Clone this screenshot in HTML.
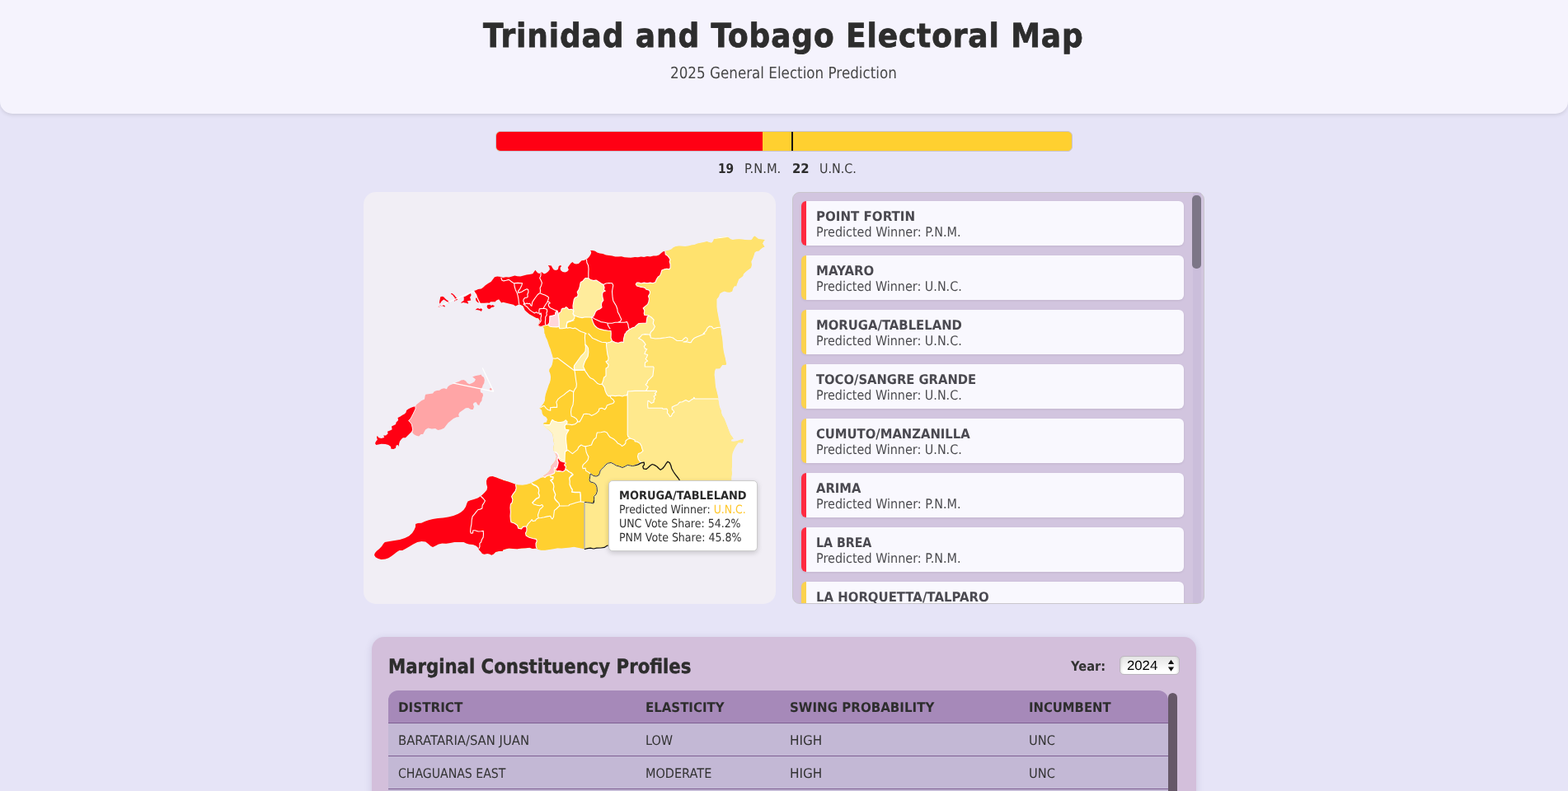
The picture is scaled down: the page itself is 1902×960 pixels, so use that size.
<!DOCTYPE html>
<html lang="en">
<head>
<meta charset="utf-8">
<title>Trinidad and Tobago Electoral Map</title>
<style>
*{box-sizing:border-box;margin:0;padding:0}
html,body{width:1902px;height:960px;overflow:hidden}
body{background:#e6e4f7;font-family:"DejaVu Sans","Liberation Sans",sans-serif;color:#333;position:relative;font-size:16px}
.t{position:absolute;white-space:nowrap;font-weight:normal;display:block;transform-origin:0 0;text-rendering:geometricPrecision}
header{position:absolute;left:0;top:0;width:1902px;height:138px;background:#f5f3fd;border-radius:0 0 15px 15px;box-shadow:0 2px 4px rgba(0,0,0,.1)}
.bar{position:absolute;left:601px;top:159px;width:700px;height:25px;border:1px solid #c9c3cf;border-radius:6px;overflow:hidden;background:#ffd030}
.bar .pnm{position:absolute;left:0;top:0;bottom:0;width:322.6px;background:#ff0014}
.bar .mid{position:absolute;left:358px;top:0;bottom:0;width:2px;background:#111}
.seats{position:absolute;left:0;top:0;width:1902px;height:0}
.map{position:absolute;left:441px;top:233px;width:500px;height:500px;border-radius:15px;background:#f1eef5;overflow:hidden}
.map svg{position:absolute;left:0;top:0;width:500px;height:500px}
.tip{position:absolute;left:738px;top:583px;width:181px;height:86px;background:#fff;border:1px solid #ccc;border-radius:5px;box-shadow:0 2px 6px rgba(0,0,0,.18)}
.list{position:absolute;left:961px;top:233px;width:500px;height:500px;border:1px solid #c9c6cc;border-radius:9px;background:#d2c5df;overflow:hidden}
.item{position:absolute;left:10px;width:464px;height:54px;background:#f9f8fe;border-left:6px solid #ff2a40;border-radius:6px;box-shadow:0 1px 3px rgba(0,0,0,.08)}
.item.u{border-left-color:#fbd24f}
.track{position:absolute;left:1447px;top:234px;width:10px;height:498px;background:#cbbedb}
.thumb{position:absolute;left:1446px;top:237px;width:11px;height:89px;background:#7c7687;border-radius:5px}
.panel{position:absolute;left:451px;top:773px;width:1000px;height:260px;border-radius:15px;background:#d3bfdb;box-shadow:0 2px 10px rgba(60,50,100,.15)}
.sel{position:absolute;left:907px;top:23px;width:73px;height:23px;border:1px solid #bcb6bf;border-radius:5px;background:linear-gradient(#e6e6e6,#f1f1f1 40%,#fff 80%);box-shadow:inset 3px 0 3px -2px rgba(0,0,0,.13),inset -3px 0 3px -2px rgba(0,0,0,.13)}
.sel svg{position:absolute;left:56px;top:3px}
.tbl{position:absolute;left:471px;top:838px;width:946px;height:200px;border-radius:12px 12px 0 0;overflow:hidden;background:#c3b8d5}
.tr{position:absolute;left:0;width:946px;height:40px;border-bottom:1px solid #7e5f92}
.tr.h{background:#a689b9}
.sb{position:absolute;left:966px;top:68px;width:11px;height:200px;background:#665868;border-radius:6px}
</style>
</head>
<body>
<header><h1 class="t" style="left:586.30px;top:18.90px;font:bold 40px/50px 'DejaVu Sans','Liberation Sans',sans-serif;letter-spacing:1.0px;color:#2d2d2d;transform:scaleX(0.8982);-webkit-text-stroke:0.8px #2d2d2d">Trinidad and Tobago Electoral Map</h1><p class="t" style="left:813.21px;top:77.40px;font:normal 19.2px/24px 'DejaVu Sans','Liberation Sans',sans-serif;letter-spacing:0px;color:#474747;transform:scaleX(0.8734)">2025 General Election Prediction</p></header>
<div class="bar"><div class="pnm"></div><div class="mid"></div></div>
<div class="seats"><b class="t" style="left:870.94px;top:195.30px;font:bold 16px/20px 'DejaVu Sans','Liberation Sans',sans-serif;letter-spacing:0px;color:#2d2d2d;transform:scaleX(0.8600)">19</b><span class="t" style="left:903.17px;top:195.30px;font:normal 16px/20px 'DejaVu Sans','Liberation Sans',sans-serif;letter-spacing:0px;color:#3a3a3a;transform:scaleX(0.9180)">P.N.M.</span><b class="t" style="left:960.59px;top:195.30px;font:bold 16px/20px 'DejaVu Sans','Liberation Sans',sans-serif;letter-spacing:0px;color:#2d2d2d;transform:scaleX(0.9254)">22</b><span class="t" style="left:994.10px;top:195.30px;font:normal 16px/20px 'DejaVu Sans','Liberation Sans',sans-serif;letter-spacing:0px;color:#3a3a3a;transform:scaleX(0.8939)">U.N.C.</span></div>
<div class="map"><svg viewBox="0 0 500 500">
<defs><clipPath id="tc"><path d="M134.0 120.1 L136.5 119.2 L139.0 118.0 L142.8 117.6 L145.2 115.8 L147.8 113.2 L151.5 110.8 L154.6 108.9 L157.1 105.8 L159.0 103.2 L162.1 102.4 L166.5 103.0 L169.0 103.9 L172.8 103.2 L176.5 103.5 L180.2 102.6 L183.4 101.4 L186.5 102.2 L190.2 102.6 L194.0 101.4 L197.8 100.5 L201.5 100.1 L205.2 99.2 L207.1 96.4 L208.4 94.8 L209.6 96.4 L211.5 98.5 L214.0 98.9 L215.9 97.2 L217.1 98.0 L219.0 99.5 L221.5 98.5 L224.0 96.4 L225.9 93.9 L225.5 91.4 L223.8 88.9 L225.9 89.2 L227.8 89.5 L229.0 92.0 L230.9 94.5 L233.4 95.1 L235.9 93.9 L236.8 90.1 L239.0 89.0 L240.0 90.1 L238.4 92.0 L239.0 95.1 L241.5 97.0 L244.6 97.6 L247.1 96.4 L248.8 94.5 L247.8 91.4 L249.6 88.9 L251.5 86.4 L253.4 85.1 L255.2 86.8 L257.8 87.6 L260.9 87.0 L262.8 85.1 L264.6 83.2 L267.1 83.0 L269.6 82.0 L271.5 81.0 L274.0 78.2 L275.9 75.1 L276.2 72.6 L275.0 71.0 L277.8 71.0 L280.9 71.8 L283.4 73.5 L286.5 74.5 L290.2 75.1 L294.0 76.4 L297.8 77.0 L301.5 77.6 L305.2 78.5 L309.0 78.5 L312.8 78.2 L316.5 79.2 L320.2 79.5 L324.0 79.8 L327.8 79.2 L329.0 78.9 L332.8 79.2 L336.5 78.5 L340.2 78.9 L344.0 78.0 L347.8 78.5 L351.5 77.6 L355.2 77.6 L358.4 76.4 L360.9 74.2 L363.4 72.2 L365.2 72.0 L366.5 71.4 L370.2 70.8 L373.4 69.5 L375.9 67.2 L379.0 66.0 L382.8 65.5 L386.5 65.8 L390.2 66.0 L394.0 65.5 L397.8 64.5 L401.5 63.9 L405.2 62.6 L409.0 61.8 L412.8 61.0 L416.5 60.1 L419.0 61.0 L422.1 61.8 L423.4 60.5 L424.6 58.2 L425.2 56.4 L427.8 56.0 L430.2 55.1 L434.0 54.5 L437.8 54.2 L441.5 54.5 L443.4 55.8 L445.2 57.2 L447.8 58.0 L451.5 57.6 L455.2 57.2 L459.0 57.6 L462.8 58.0 L466.5 58.2 L470.2 58.2 L471.5 57.0 L473.0 54.5 L474.6 53.5 L476.5 55.1 L479.0 57.0 L482.8 57.6 L486.8 58.0 L485.2 60.1 L484.0 62.6 L485.2 64.5 L486.5 66.4 L484.0 67.6 L481.5 69.5 L479.6 71.4 L476.5 72.0 L474.6 73.2 L473.4 77.0 L472.1 80.8 L470.2 84.5 L470.9 88.2 L470.0 92.0 L466.5 94.5 L463.4 97.0 L460.9 99.5 L460.2 102.0 L457.8 103.9 L455.2 105.8 L454.0 108.9 L452.8 112.0 L452.1 114.5 L450.2 113.9 L448.4 116.4 L447.1 120.8 L444.0 121.8 L440.9 121.4 L437.8 120.5 L434.6 121.8 L432.1 123.5 L430.9 127.0 L428.4 130.1 L428.4 134.5 L428.4 139.5 L429.0 144.5 L430.0 149.5 L430.9 154.5 L432.1 159.5 L433.0 164.5 L433.8 169.5 L434.0 172.0 L435.0 177.0 L435.5 182.0 L435.9 187.0 L436.5 192.0 L437.5 197.0 L438.8 202.0 L439.6 206.4 L440.2 208.9 L439.0 210.1 L435.2 210.1 L433.4 212.6 L432.1 214.2 L427.1 214.5 L425.9 217.6 L425.5 222.0 L426.2 227.0 L426.5 232.0 L427.1 237.0 L428.4 242.0 L429.6 247.0 L430.5 251.4 L431.2 255.8 L432.1 260.8 L434.0 265.1 L434.0 267.0 L435.2 270.8 L437.8 275.1 L439.6 279.5 L441.5 284.5 L443.4 289.5 L445.2 293.9 L447.8 297.6 L449.0 299.8 L446.5 300.8 L446.2 302.2 L449.0 302.6 L452.8 302.0 L455.9 300.8 L459.0 300.1 L461.2 299.8 L460.9 302.6 L459.6 305.1 L457.1 304.5 L454.6 304.5 L452.8 307.0 L450.9 310.1 L449.0 313.9 L447.8 317.0 L447.1 322.0 L447.1 327.0 L447.1 332.0 L446.8 337.0 L447.1 342.0 L446.5 347.0 L446.5 350.1 L447.0 367.0 L449.0 392.0 L451.0 412.0 L445.0 423.0 L429.0 427.0 L399.0 429.0 L359.0 431.0 L319.0 429.0 L296.5 428.9 L294.0 430.1 L292.1 431.4 L287.8 432.0 L282.8 432.2 L279.0 433.0 L275.2 432.6 L271.5 433.0 L268.4 433.5 L266.5 433.0 L262.8 432.2 L259.0 431.4 L255.2 430.8 L250.2 431.4 L245.2 432.0 L240.2 432.6 L235.2 432.2 L230.2 433.2 L225.2 433.9 L220.2 434.8 L215.2 434.8 L212.1 433.9 L209.0 432.6 L205.2 433.0 L201.5 431.8 L196.5 432.2 L191.5 432.6 L186.5 433.2 L181.5 433.0 L176.5 432.6 L172.8 433.2 L169.0 434.5 L169.0 435.8 L164.0 436.0 L160.2 437.0 L157.8 439.5 L155.2 440.8 L152.8 439.5 L150.2 438.9 L146.5 439.8 L144.0 438.9 L142.1 436.4 L140.2 434.5 L139.0 431.8 L136.5 429.5 L132.8 428.0 L127.8 427.6 L124.6 426.4 L121.5 425.1 L116.5 425.1 L110.2 425.1 L105.2 426.0 L100.2 426.8 L95.2 426.4 L90.9 427.6 L87.1 429.5 L84.0 431.0 L81.5 429.8 L78.4 427.0 L75.2 424.5 L70.2 423.9 L65.2 425.1 L60.2 427.6 L55.2 430.5 L50.9 433.0 L47.1 435.1 L43.4 435.1 L40.2 437.0 L37.1 439.5 L33.4 442.2 L30.2 444.2 L26.5 445.5 L21.5 446.0 L17.8 445.1 L14.6 443.2 L13.0 440.8 L13.8 438.2 L15.9 435.8 L19.0 433.2 L22.1 430.1 L24.0 427.0 L25.9 425.1 L31.5 423.9 L37.8 423.0 L44.0 422.0 L50.2 420.1 L55.2 417.6 L59.0 413.9 L61.5 410.1 L63.0 406.4 L63.0 403.0 L65.9 402.0 L70.2 401.8 L74.6 399.8 L79.0 398.2 L84.0 397.0 L90.2 396.1 L96.5 395.5 L102.8 394.5 L109.0 393.0 L114.6 390.8 L118.4 388.5 L121.5 385.8 L124.0 382.0 L125.2 378.2 L126.5 375.5 L129.6 374.2 L134.0 373.0 L138.4 371.4 L142.1 369.2 L144.6 367.0 L147.1 364.5 L149.6 361.4 L150.2 358.2 L149.2 354.5 L149.0 350.8 L150.2 347.6 L152.8 345.5 L156.5 345.1 L160.9 346.4 L165.2 348.2 L169.0 349.5 L169.0 349.8 L175.2 351.4 L180.2 353.2 L184.0 354.8 L187.8 355.5 L192.8 355.8 L197.8 355.1 L202.8 353.5 L206.5 351.4 L211.5 348.9 L215.9 346.4 L217.8 345.1 L220.2 343.2 L222.8 341.4 L225.2 338.9 L227.1 335.8 L227.8 332.0 L230.2 329.5 L232.1 327.0 L233.4 324.5 L234.0 320.8 L232.8 318.2 L231.5 315.8 L230.2 312.6 L230.5 309.5 L231.2 305.8 L230.5 302.0 L230.0 298.2 L229.6 294.5 L227.8 291.4 L225.2 289.2 L222.1 287.0 L219.0 283.9 L217.8 281.4 L219.0 280.1 L222.1 279.5 L223.0 275.8 L221.5 273.2 L218.4 271.4 L216.8 268.9 L216.2 264.8 L213.4 262.6 L213.4 262.6 L214.6 261.4 L216.5 258.9 L218.4 256.4 L220.0 253.2 L220.2 249.5 L220.9 245.8 L222.1 242.0 L223.4 238.2 L224.6 234.5 L225.9 231.4 L226.8 228.2 L227.1 224.5 L226.5 220.8 L225.2 217.6 L225.5 215.1 L227.8 212.0 L228.8 209.5 L229.6 205.8 L230.0 202.0 L229.0 198.2 L227.8 194.5 L226.8 190.8 L225.2 187.0 L224.0 183.2 L222.8 179.5 L220.9 175.8 L220.0 172.0 L219.5 172.0 L219.2 167.3 L218.4 164.2 L216.8 163.0 L213.7 163.4 L211.7 161.8 L212.9 159.5 L214.1 156.4 L212.1 153.2 L209.8 152.9 L207.4 151.7 L204.3 150.1 L201.2 148.2 L198.1 145.8 L195.7 143.5 L194.5 140.8 L193.4 138.4 L190.2 136.8 L188.3 136.4 L186.3 137.6 L184.4 138.4 L181.7 136.8 L178.5 136.1 L175.4 135.3 L172.3 134.5 L169.2 133.7 L167.2 134.5 L165.6 132.2 L164.1 130.2 L161.3 131.4 L159.0 133.7 L159.0 133.2 L154.0 133.2 L152.8 134.8 L150.2 134.5 L146.5 134.8 L141.5 134.8 L138.4 133.9 L136.5 132.0 L135.9 129.5 L137.8 127.0 L137.1 123.9 L134.6 122.0 L134.0 120.1Z"/></clipPath></defs>
<g clip-path="url(#tc)" stroke="#fff" stroke-width="1.1" stroke-linejoin="round" stroke-linecap="round">
<path d="M134.0 120.1 L136.5 119.2 L139.0 118.0 L142.8 117.6 L145.2 115.8 L147.8 113.2 L151.5 110.8 L154.6 108.9 L157.1 105.8 L159.0 103.2 L162.1 102.4 L166.5 103.0 L169.0 103.9 L172.8 103.2 L176.5 103.5 L180.2 102.6 L183.4 101.4 L186.5 102.2 L190.2 102.6 L194.0 101.4 L197.8 100.5 L201.5 100.1 L205.2 99.2 L207.1 96.4 L208.4 94.8 L209.6 96.4 L211.5 98.5 L214.0 98.9 L215.9 97.2 L217.1 98.0 L219.0 99.5 L221.5 98.5 L224.0 96.4 L225.9 93.9 L225.5 91.4 L223.8 88.9 L225.9 89.2 L227.8 89.5 L229.0 92.0 L230.9 94.5 L233.4 95.1 L235.9 93.9 L236.8 90.1 L239.0 89.0 L240.0 90.1 L238.4 92.0 L239.0 95.1 L241.5 97.0 L244.6 97.6 L247.1 96.4 L248.8 94.5 L247.8 91.4 L249.6 88.9 L251.5 86.4 L253.4 85.1 L255.2 86.8 L257.8 87.6 L260.9 87.0 L262.8 85.1 L264.6 83.2 L267.1 83.0 L269.6 82.0 L271.5 81.0 L274.0 78.2 L275.9 75.1 L276.2 72.6 L275.0 71.0 L277.8 71.0 L280.9 71.8 L283.4 73.5 L286.5 74.5 L290.2 75.1 L294.0 76.4 L297.8 77.0 L301.5 77.6 L305.2 78.5 L309.0 78.5 L312.8 78.2 L316.5 79.2 L320.2 79.5 L324.0 79.8 L327.8 79.2 L329.0 78.9 L332.8 79.2 L336.5 78.5 L340.2 78.9 L344.0 78.0 L347.8 78.5 L351.5 77.6 L355.2 77.6 L358.4 76.4 L360.9 74.2 L363.4 72.2 L365.2 72.0 L366.5 71.4 L370.2 70.8 L373.4 69.5 L375.9 67.2 L379.0 66.0 L382.8 65.5 L386.5 65.8 L390.2 66.0 L394.0 65.5 L397.8 64.5 L401.5 63.9 L405.2 62.6 L409.0 61.8 L412.8 61.0 L416.5 60.1 L419.0 61.0 L422.1 61.8 L423.4 60.5 L424.6 58.2 L425.2 56.4 L427.8 56.0 L430.2 55.1 L434.0 54.5 L437.8 54.2 L441.5 54.5 L443.4 55.8 L445.2 57.2 L447.8 58.0 L451.5 57.6 L455.2 57.2 L459.0 57.6 L462.8 58.0 L466.5 58.2 L470.2 58.2 L471.5 57.0 L473.0 54.5 L474.6 53.5 L476.5 55.1 L479.0 57.0 L482.8 57.6 L486.8 58.0 L485.2 60.1 L484.0 62.6 L485.2 64.5 L486.5 66.4 L484.0 67.6 L481.5 69.5 L479.6 71.4 L476.5 72.0 L474.6 73.2 L473.4 77.0 L472.1 80.8 L470.2 84.5 L470.9 88.2 L470.0 92.0 L466.5 94.5 L463.4 97.0 L460.9 99.5 L460.2 102.0 L457.8 103.9 L455.2 105.8 L454.0 108.9 L452.8 112.0 L452.1 114.5 L450.2 113.9 L448.4 116.4 L447.1 120.8 L444.0 121.8 L440.9 121.4 L437.8 120.5 L434.6 121.8 L432.1 123.5 L430.9 127.0 L428.4 130.1 L428.4 134.5 L428.4 139.5 L429.0 144.5 L430.0 149.5 L430.9 154.5 L432.1 159.5 L433.0 164.5 L433.8 169.5 L434.0 172.0 L435.0 177.0 L435.5 182.0 L435.9 187.0 L436.5 192.0 L437.5 197.0 L438.8 202.0 L439.6 206.4 L440.2 208.9 L439.0 210.1 L435.2 210.1 L433.4 212.6 L432.1 214.2 L427.1 214.5 L425.9 217.6 L425.5 222.0 L426.2 227.0 L426.5 232.0 L427.1 237.0 L428.4 242.0 L429.6 247.0 L430.5 251.4 L431.2 255.8 L432.1 260.8 L434.0 265.1 L434.0 267.0 L435.2 270.8 L437.8 275.1 L439.6 279.5 L441.5 284.5 L443.4 289.5 L445.2 293.9 L447.8 297.6 L449.0 299.8 L446.5 300.8 L446.2 302.2 L449.0 302.6 L452.8 302.0 L455.9 300.8 L459.0 300.1 L461.2 299.8 L460.9 302.6 L459.6 305.1 L457.1 304.5 L454.6 304.5 L452.8 307.0 L450.9 310.1 L449.0 313.9 L447.8 317.0 L447.1 322.0 L447.1 327.0 L447.1 332.0 L446.8 337.0 L447.1 342.0 L446.5 347.0 L446.5 350.1 L447.0 367.0 L449.0 392.0 L451.0 412.0 L445.0 423.0 L429.0 427.0 L399.0 429.0 L359.0 431.0 L319.0 429.0 L296.5 428.9 L294.0 430.1 L292.1 431.4 L287.8 432.0 L282.8 432.2 L279.0 433.0 L275.2 432.6 L271.5 433.0 L268.4 433.5 L266.5 433.0 L262.8 432.2 L259.0 431.4 L255.2 430.8 L250.2 431.4 L245.2 432.0 L240.2 432.6 L235.2 432.2 L230.2 433.2 L225.2 433.9 L220.2 434.8 L215.2 434.8 L212.1 433.9 L209.0 432.6 L205.2 433.0 L201.5 431.8 L196.5 432.2 L191.5 432.6 L186.5 433.2 L181.5 433.0 L176.5 432.6 L172.8 433.2 L169.0 434.5 L169.0 435.8 L164.0 436.0 L160.2 437.0 L157.8 439.5 L155.2 440.8 L152.8 439.5 L150.2 438.9 L146.5 439.8 L144.0 438.9 L142.1 436.4 L140.2 434.5 L139.0 431.8 L136.5 429.5 L132.8 428.0 L127.8 427.6 L124.6 426.4 L121.5 425.1 L116.5 425.1 L110.2 425.1 L105.2 426.0 L100.2 426.8 L95.2 426.4 L90.9 427.6 L87.1 429.5 L84.0 431.0 L81.5 429.8 L78.4 427.0 L75.2 424.5 L70.2 423.9 L65.2 425.1 L60.2 427.6 L55.2 430.5 L50.9 433.0 L47.1 435.1 L43.4 435.1 L40.2 437.0 L37.1 439.5 L33.4 442.2 L30.2 444.2 L26.5 445.5 L21.5 446.0 L17.8 445.1 L14.6 443.2 L13.0 440.8 L13.8 438.2 L15.9 435.8 L19.0 433.2 L22.1 430.1 L24.0 427.0 L25.9 425.1 L31.5 423.9 L37.8 423.0 L44.0 422.0 L50.2 420.1 L55.2 417.6 L59.0 413.9 L61.5 410.1 L63.0 406.4 L63.0 403.0 L65.9 402.0 L70.2 401.8 L74.6 399.8 L79.0 398.2 L84.0 397.0 L90.2 396.1 L96.5 395.5 L102.8 394.5 L109.0 393.0 L114.6 390.8 L118.4 388.5 L121.5 385.8 L124.0 382.0 L125.2 378.2 L126.5 375.5 L129.6 374.2 L134.0 373.0 L138.4 371.4 L142.1 369.2 L144.6 367.0 L147.1 364.5 L149.6 361.4 L150.2 358.2 L149.2 354.5 L149.0 350.8 L150.2 347.6 L152.8 345.5 L156.5 345.1 L160.9 346.4 L165.2 348.2 L169.0 349.5 L169.0 349.8 L175.2 351.4 L180.2 353.2 L184.0 354.8 L187.8 355.5 L192.8 355.8 L197.8 355.1 L202.8 353.5 L206.5 351.4 L211.5 348.9 L215.9 346.4 L217.8 345.1 L220.2 343.2 L222.8 341.4 L225.2 338.9 L227.1 335.8 L227.8 332.0 L230.2 329.5 L232.1 327.0 L233.4 324.5 L234.0 320.8 L232.8 318.2 L231.5 315.8 L230.2 312.6 L230.5 309.5 L231.2 305.8 L230.5 302.0 L230.0 298.2 L229.6 294.5 L227.8 291.4 L225.2 289.2 L222.1 287.0 L219.0 283.9 L217.8 281.4 L219.0 280.1 L222.1 279.5 L223.0 275.8 L221.5 273.2 L218.4 271.4 L216.8 268.9 L216.2 264.8 L213.4 262.6 L213.4 262.6 L214.6 261.4 L216.5 258.9 L218.4 256.4 L220.0 253.2 L220.2 249.5 L220.9 245.8 L222.1 242.0 L223.4 238.2 L224.6 234.5 L225.9 231.4 L226.8 228.2 L227.1 224.5 L226.5 220.8 L225.2 217.6 L225.5 215.1 L227.8 212.0 L228.8 209.5 L229.6 205.8 L230.0 202.0 L229.0 198.2 L227.8 194.5 L226.8 190.8 L225.2 187.0 L224.0 183.2 L222.8 179.5 L220.9 175.8 L220.0 172.0 L219.5 172.0 L219.2 167.3 L218.4 164.2 L216.8 163.0 L213.7 163.4 L211.7 161.8 L212.9 159.5 L214.1 156.4 L212.1 153.2 L209.8 152.9 L207.4 151.7 L204.3 150.1 L201.2 148.2 L198.1 145.8 L195.7 143.5 L194.5 140.8 L193.4 138.4 L190.2 136.8 L188.3 136.4 L186.3 137.6 L184.4 138.4 L181.7 136.8 L178.5 136.1 L175.4 135.3 L172.3 134.5 L169.2 133.7 L167.2 134.5 L165.6 132.2 L164.1 130.2 L161.3 131.4 L159.0 133.7 L159.0 133.2 L154.0 133.2 L152.8 134.8 L150.2 134.5 L146.5 134.8 L141.5 134.8 L138.4 133.9 L136.5 132.0 L135.9 129.5 L137.8 127.0 L137.1 123.9 L134.6 122.0 L134.0 120.1Z" fill="#ffe98d" stroke="none"/>
<path d="M366.0 64.0 L499.0 47.0 L499.0 251.0 L430.2 251.0 L401.8 251.0 L400.9 249.2 L400.2 250.8 L397.1 252.6 L394.6 254.5 L390.9 252.6 L386.5 254.8 L383.4 255.1 L380.9 258.0 L377.1 259.5 L374.2 261.0 L374.2 263.9 L375.9 265.1 L376.8 267.2 L374.6 268.9 L373.4 272.0 L371.5 272.6 L370.2 270.1 L368.4 268.2 L368.8 265.1 L367.8 263.0 L363.4 263.2 L362.1 262.2 L354.0 262.2 L345.0 262.2 L344.6 258.2 L345.0 253.2 L346.5 253.9 L349.0 256.4 L352.1 255.1 L352.1 252.6 L353.4 250.8 L352.1 248.0 L354.6 246.4 L353.4 244.5 L355.5 242.6 L355.2 241.4 L342.5 241.4 L344.0 238.9 L345.2 236.4 L342.1 233.9 L344.0 232.0 L344.6 229.5 L347.8 226.4 L350.9 223.2 L351.5 218.2 L352.1 213.2 L351.5 212.0 L341.2 212.0 L341.5 207.0 L344.6 205.1 L342.1 202.6 L343.4 200.8 L344.6 197.6 L340.9 196.4 L342.1 193.2 L343.8 190.8 L341.5 190.1 L340.2 187.6 L342.1 185.1 L340.9 183.2 L339.0 180.8 L336.5 178.9 L333.4 177.6 L335.9 175.8 L337.8 173.2 L341.5 172.6 L346.5 173.0 L347.8 174.5 L347.8 172.0 L348.4 170.1 L351.5 167.0 L353.4 163.2 L351.2 159.5 L352.1 155.1 L349.0 152.0 L345.9 150.1 L343.0 152.6 L336.5 150.8 L329.0 139.5 L326.5 112.0 L329.0 102.0 L347.8 89.5 L364.0 83.2 L365.2 64.5Z" fill="#ffe26e"/>
<path d="M199.0 147.0 L301.0 147.0 L301.5 180.8 L299.0 182.2 L294.6 183.2 L294.6 187.0 L295.2 192.0 L295.9 197.0 L297.1 201.4 L296.5 204.5 L294.0 205.8 L295.2 207.6 L297.1 209.5 L296.5 212.6 L294.0 213.9 L294.0 218.2 L294.0 223.2 L291.5 225.1 L290.9 228.2 L289.6 232.0 L289.0 233.2 L290.9 235.1 L292.5 237.6 L292.8 240.1 L294.0 243.2 L295.2 245.8 L297.1 247.6 L301.5 247.0 L305.2 247.6 L310.2 247.0 L314.0 248.0 L317.1 246.8 L319.0 247.0 L320.2 244.5 L320.5 242.0 L320.2 247.0 L320.2 257.0 L320.2 294.5 L320.9 297.0 L323.4 298.9 L326.5 300.1 L329.0 301.0 L329.0 302.6 L332.1 303.2 L335.2 305.1 L337.1 308.2 L337.8 311.4 L339.0 314.2 L336.5 316.4 L333.4 317.6 L332.5 320.8 L333.4 324.5 L335.2 327.0 L337.1 328.5 L334.0 329.5 L329.0 332.0 L326.5 332.6 L323.4 332.0 L320.2 331.4 L317.1 333.2 L314.0 334.5 L310.2 333.0 L306.5 332.0 L303.4 330.1 L300.2 328.5 L296.5 329.2 L294.0 330.8 L292.1 333.2 L289.6 335.8 L287.1 338.2 L286.5 340.8 L285.2 343.9 L282.1 345.1 L279.0 344.5 L277.1 343.2 L275.2 342.0 L274.6 345.8 L274.0 349.5 L275.2 352.0 L278.4 352.6 L281.5 354.5 L283.0 358.2 L283.4 363.2 L282.1 367.0 L279.6 369.5 L279.6 373.2 L279.0 377.0 L279.6 374.5 L278.8 378.0 L275.2 377.2 L271.5 376.8 L268.0 376.4 L268.0 433.5 L268.0 457.0 L159.0 457.0 L159.0 327.0 L199.0 327.0 L199.0 147.0Z" fill="#ffd030"/>
<path d="M211.7 161.8 L213.7 163.4 L216.8 163.0 L220.7 161.8 L224.2 161.2 L239.0 159.5 L256.5 148.2 L276.5 152.0 L277.5 155.8 L278.4 158.2 L280.2 162.0 L282.8 164.5 L286.5 166.4 L291.5 167.6 L296.5 168.2 L300.0 168.5 L300.2 172.0 L300.2 172.0 L300.0 177.0 L301.5 180.8 L305.2 182.6 L309.0 183.2 L312.8 182.0 L315.2 182.6 L315.5 178.2 L316.5 174.5 L317.1 172.0 L317.8 172.0 L319.0 169.5 L322.5 167.0 L325.9 165.1 L329.0 163.9 L329.0 163.9 L331.5 161.4 L334.0 159.5 L339.0 159.2 L343.0 159.2 L343.4 155.8 L344.0 152.0 L345.9 150.1 L343.4 149.8 L340.9 149.5 L340.2 147.0 L340.9 143.9 L339.2 141.0 L341.5 138.9 L344.6 136.4 L345.9 133.2 L346.5 129.5 L345.5 126.4 L347.1 123.9 L347.5 120.8 L345.9 118.9 L342.8 118.2 L341.5 116.4 L339.0 115.8 L335.2 115.1 L331.5 113.9 L330.2 112.0 L331.5 110.1 L334.0 110.1 L336.5 111.0 L340.2 110.1 L344.0 110.8 L347.8 110.1 L350.9 110.8 L354.0 109.5 L355.2 106.4 L357.1 103.2 L359.6 101.4 L360.9 98.2 L361.8 95.1 L364.6 93.9 L367.8 93.2 L370.9 93.9 L372.1 92.0 L372.1 87.6 L371.2 84.5 L372.1 82.0 L370.9 80.1 L369.0 77.6 L366.2 75.8 L365.9 72.0 L365.9 64.5 L119.0 57.0 L119.0 167.0 L199.0 167.0Z" fill="#ff0013"/>
<path d="M184.6 353.2 L184.6 355.8 L185.2 359.5 L184.0 363.2 L181.5 366.4 L179.6 369.5 L180.9 373.2 L180.2 377.0 L178.4 378.9 L178.0 383.2 L178.4 388.2 L178.0 393.2 L178.4 398.2 L179.0 400.8 L182.8 402.0 L186.5 404.5 L187.8 408.2 L191.5 408.9 L193.4 406.4 L197.1 405.8 L198.0 408.2 L197.8 411.4 L196.5 413.9 L197.1 417.0 L200.2 418.9 L205.2 420.5 L209.6 421.4 L210.2 423.9 L209.0 426.4 L209.2 430.1 L210.2 433.0 L210.5 437.0 L4.0 457.0 L4.0 337.0 L179.0 337.0Z" fill="#ff0013"/>
<path d="M269.0 104.5 L272.8 104.8 L275.2 106.4 L279.0 107.6 L282.1 107.0 L285.2 108.9 L287.8 110.8 L290.9 112.6 L292.1 115.8 L291.5 118.9 L293.4 120.1 L290.2 121.4 L289.6 124.5 L290.0 128.2 L290.9 131.4 L289.0 133.9 L288.4 137.0 L289.0 140.1 L286.5 142.0 L283.4 143.2 L281.5 145.1 L280.2 148.2 L279.0 150.8 L276.5 152.0 L272.8 152.0 L269.0 151.8 L265.2 152.6 L261.5 152.0 L257.8 150.8 L255.2 149.5 L254.0 147.0 L255.0 144.5 L254.2 141.4 L254.0 138.2 L254.6 134.5 L255.2 130.8 L256.5 128.2 L259.6 127.0 L260.2 124.5 L259.2 121.4 L260.9 118.9 L262.1 115.8 L262.8 112.0 L263.4 109.5 L265.9 108.2 L267.8 105.8Z" fill="#ffec9c"/>
<path d="M237.1 147.0 L239.5 145.4 L240.2 142.3 L241.8 141.1 L243.8 141.5 L245.7 139.6 L247.3 140.8 L248.8 142.7 L252.0 142.3 L253.9 143.1 L254.7 145.4 L253.9 147.8 L255.9 150.9 L255.9 153.2 L252.8 156.4 L249.6 157.6 L246.9 158.7 L246.1 161.8 L245.7 165.0 L241.0 165.8 L237.9 165.8 L237.1 163.4 L237.1 157.9 L236.7 153.2 L236.3 150.1Z" fill="#ffe98d"/>
<path d="M225.8 150.9 L229.3 150.1 L232.4 149.3 L232.8 146.6 L234.0 144.3 L235.2 144.7 L236.0 147.0 L236.3 150.1 L236.7 153.2 L237.1 157.9 L237.1 163.4 L234.0 163.9 L229.3 163.8 L226.2 163.2 L223.8 161.4 L225.4 158.7 L225.8 154.8Z" fill="#ffd6da"/>
<path d="M255.9 216.0 L255.5 210.8 L257.8 207.6 L260.9 203.2 L264.0 198.9 L267.1 195.8 L269.0 193.2 L269.4 188.2 L269.0 185.1 L270.9 187.0 L272.5 189.5 L272.8 194.5 L272.1 199.5 L270.2 202.6 L268.4 205.8 L267.1 209.5 L266.5 212.0 L267.8 214.5 L268.4 216.0Z" fill="#fff0a8"/>
<path d="M216.5 282.0 L222.1 282.6 L225.9 282.6 L227.5 278.9 L229.0 276.4 L231.5 278.2 L235.2 279.2 L239.0 279.5 L242.8 278.9 L245.2 276.8 L247.1 278.9 L246.5 281.4 L244.6 282.6 L244.0 285.1 L245.0 288.2 L249.0 288.9 L247.1 292.0 L245.9 294.5 L245.5 299.5 L245.9 304.5 L246.5 309.5 L246.8 313.2 L244.6 315.1 L244.2 319.5 L244.0 326.4 L240.9 325.8 L237.8 323.2 L236.5 321.4 L235.9 318.9 L234.0 316.4 L231.5 315.8 L226.5 312.0 L226.5 292.0Z" fill="#fff4c9"/>
<path d="M230.9 316.1 L232.8 315.8 L234.6 317.0 L235.9 318.9 L236.5 321.1 L235.6 323.2 L235.2 325.8 L236.2 328.2 L235.9 330.1 L235.2 332.6 L234.6 334.8 L233.1 335.4 L231.5 334.5 L231.2 337.0 L232.1 339.5 L231.2 341.4 L229.0 342.6 L226.5 343.6 L224.0 343.9 L221.5 345.1 L220.2 346.4 L217.8 345.4 L215.2 346.4 L215.2 343.2 L221.5 340.8 L224.0 337.0 L225.9 332.0 L227.8 327.0 L230.2 323.9 L232.8 320.8 L232.1 317.6Z" fill="#ffc3c8"/>
<path d="M236.2 322.0 L237.1 323.9 L238.4 325.8 L240.2 327.0 L242.8 327.6 L244.9 328.2 L245.2 329.5 L243.7 330.8 L244.0 332.0 L245.6 332.9 L245.2 334.5 L244.6 337.0 L243.4 338.6 L241.5 339.5 L239.0 338.9 L236.5 338.6 L234.0 339.0 L233.1 337.6 L233.1 335.4 L234.6 334.8 L235.2 332.6 L235.9 330.1 L236.2 328.2 L235.2 325.8 L235.1 323.6Z" fill="#ff0013"/>
<path d="M166.8 104.0 L168.0 107.2 L169.9 107.9 L173.1 107.2 L176.2 106.4 L179.3 108.7 L182.4 110.9 L187.1 110.4 L192.6 110.7 L191.8 113.4 L189.9 117.3 L187.5 120.4 L187.9 122.4 L191.8 121.2 L194.9 119.3 L198.1 117.7 L199.6 118.5 L200.0 121.2 L198.8 124.3 L199.2 127.1 L198.1 128.2 L196.1 128.2 L194.2 130.2 L193.8 132.2 L194.9 134.5 L196.5 136.1 L198.1 134.9 L199.6 135.7 L201.6 135.3 L202.8 137.6 L203.9 138.4 L204.3 136.1 L204.7 133.7 L206.7 130.6 L209.0 127.5 L211.0 124.7 L212.9 123.2 L214.1 122.8 M182.7 110.9 L183.2 115.0 L184.4 118.9 L186.3 122.8 L187.1 125.9 L187.9 129.8 L188.3 133.7 L188.7 136.8 M215.1 98.6 L214.9 101.7 L213.7 104.4 L215.2 107.2 L216.4 110.3 L215.6 113.4 L214.1 116.5 L214.5 119.7 L214.1 122.8 L216.8 123.9 L219.9 125.1 L223.1 126.7 L224.6 128.2 L223.8 131.4 L223.1 132.9 L225.4 133.7 L226.2 134.9 L224.2 135.7 L224.6 138.4 L226.2 140.4 L229.3 141.9 L232.4 143.5 L235.2 144.3 M194.9 134.5 L194.2 136.4 L194.5 136.1 L195.7 137.6 L198.1 139.2 L199.6 140.8 L201.6 143.1 L204.3 145.1 L207.4 147.0 L209.8 145.8 L211.0 147.0 L212.9 147.0 L212.9 143.9 L213.3 141.9 L216.0 141.5 L219.9 141.5 L222.3 142.3 L222.7 144.7 L221.9 147.0 L222.3 149.3 L220.7 151.7 L220.7 154.8 L220.3 157.9 L220.6 160.7 M212.9 147.0 L213.7 148.6 L215.2 147.0 L215.6 150.1 L214.9 153.2 L215.2 156.4 L213.7 158.7 L212.1 160.7 M223.2 132.9 L222.3 134.5 L220.7 136.8 L219.2 139.2 L218.0 141.4 M270.5 82.0 L270.9 85.8 L272.5 88.9 L273.0 93.2 L272.8 98.2 L272.8 104.5 M290.9 112.6 L294.0 111.0 L297.8 110.5 L301.5 110.8 L302.8 113.2 L302.1 117.0 L301.5 120.8 L301.8 124.5 L302.1 128.2 L302.8 132.0 L304.6 135.1 L306.5 138.2 L307.8 142.0 L308.4 145.8 L310.2 148.9 L311.5 152.0 L312.8 154.5 L311.5 157.0 L309.0 158.0 M277.1 152.0 L280.2 153.9 L284.0 155.8 L287.8 157.6 L292.1 158.2 L296.5 159.2 L301.5 159.2 L305.2 158.2 L309.0 158.0 L312.8 158.2 L316.5 158.2 L319.6 157.6 L320.9 160.8 L321.5 164.5 L322.5 167.0 M299.0 166.0 L296.5 162.0 L295.9 159.5 M142.5 369.5 L145.2 372.0 L147.5 374.8 L145.9 377.6 L144.2 380.1 L143.8 383.9 L141.5 385.1 L139.0 385.5 L137.1 387.6 L134.6 390.8 L132.1 393.9 L131.2 398.2 L130.9 403.2 L130.0 407.6 L129.6 412.0 L130.2 414.2 L132.5 413.9 L132.8 410.8 L135.2 410.8 L139.0 412.0 L142.8 411.8 L145.2 411.4 L145.5 415.1 L145.2 418.9 L143.4 422.0 L142.5 425.1 L140.9 426.4 L140.9 430.8 L140.0 432.6 M347.8 174.5 L348.4 177.0 L354.0 178.0 L360.2 177.6 L366.5 176.8 L371.5 176.0 L375.2 177.0 L377.8 178.9 L380.2 180.5 L386.5 180.5 L388.4 178.2 L390.9 176.4 L392.8 177.6 L393.0 180.1 L390.9 181.4 L387.8 182.0 L391.5 181.8 L395.2 182.6 L397.1 182.6 L399.0 179.5 L400.9 177.6 L404.0 176.0 L407.8 174.5 L411.5 173.0 L414.0 172.0 M412.1 172.0 L415.2 168.9 L417.1 165.1 L419.6 163.0 L422.1 163.2 L424.6 166.0 L429.0 164.5 L433.0 164.2 M320.5 242.0 L329.0 241.4 L342.5 241.4 M230.0 202.0 L232.8 202.2 L235.2 201.4 L239.0 204.2 L244.0 208.0 L249.0 211.8 L254.0 215.5 L255.9 216.8 M255.9 216.4 L255.2 213.2 L255.5 210.8 M268.4 216.0 L269.0 217.6 L270.9 220.1 L272.8 223.2 L275.2 225.8 L279.0 227.6 L281.5 230.1 L284.0 232.6 L286.5 233.5 L289.0 233.2 M268.8 172.0 L268.4 177.0 L268.8 182.0 L269.0 185.1 M272.8 172.0 L275.2 174.5 L277.8 177.6 L281.5 178.9 L285.2 180.8 L289.0 182.2 L294.0 182.6 L294.6 183.2 M255.9 216.4 L256.5 219.5 L257.1 224.5 L257.8 229.5 L258.4 233.2 L258.0 237.0 L255.9 240.1 L254.6 243.2 L254.6 248.2 L254.6 253.2 L254.0 258.2 L252.1 262.6 L251.5 267.0 L252.1 272.0 L255.2 273.2 L258.0 275.1 L259.6 277.6 L259.2 279.5 L256.5 281.8 L252.8 282.6 L249.0 282.0 L246.5 281.8 L244.6 282.6 M254.6 242.6 L250.2 240.5 L246.5 243.2 L242.8 246.4 L239.0 248.9 L235.9 251.4 L233.8 255.1 L234.6 258.2 L234.6 261.4 L230.2 261.4 L226.5 261.8 L226.8 265.1 L224.0 264.5 L221.5 262.6 L219.2 259.5 L217.1 260.1 L214.6 261.8 M259.6 278.9 L262.1 278.9 L264.0 275.8 L265.9 272.0 L267.1 269.5 L270.2 269.2 L274.0 269.8 L276.5 271.4 L279.6 270.1 L282.8 268.2 L285.2 265.8 L285.9 263.0 L289.0 262.2 L292.8 263.9 L294.6 261.4 L295.2 258.9 L299.0 257.6 L302.8 256.4 L304.2 254.5 L302.8 252.0 L300.2 250.1 L299.0 247.6 L297.1 247.6 M255.9 216.4 L268.4 216.0 M246.2 164.5 L247.1 165.1 L250.2 164.5 L254.0 165.8 L256.5 165.1 L259.0 166.4 L261.5 168.2 L264.0 169.5 L267.8 170.8 L270.2 172.0 M255.2 155.8 L251.5 156.4 L247.1 157.6 L246.5 160.8 L246.2 164.5 M244.6 315.1 L247.8 313.2 L250.2 315.1 L253.4 317.6 L256.5 315.1 L259.6 312.6 L260.9 309.5 L264.0 307.0 L266.5 308.2 L269.0 308.9 L272.8 308.0 L276.5 307.0 L277.8 303.2 L279.6 300.1 L282.1 298.2 L282.8 293.9 L283.4 292.0 L287.8 291.8 L292.1 290.8 L295.2 292.0 L297.1 295.1 L299.0 297.6 L302.8 299.5 L304.6 300.8 L306.5 302.6 L308.4 305.1 L311.5 306.4 L313.4 308.5 L315.9 307.0 L317.8 305.1 L318.0 302.0 L320.2 300.1 L323.4 298.9 M269.0 308.9 L269.6 312.0 L270.2 315.8 L271.5 318.9 L273.0 321.4 L272.1 325.1 L269.6 328.2 L266.5 330.8 L265.5 333.2 L266.2 335.8 L269.0 335.1 L269.6 338.2 L272.8 340.1 L275.2 342.0 M245.2 337.0 L247.8 338.2 L250.2 340.1 L253.0 342.0 L254.2 343.2 L251.5 345.5 L249.6 347.6 L250.2 351.4 L250.0 355.1 L251.5 358.9 L253.4 362.0 L252.5 364.2 L256.5 364.8 L262.8 364.8 L263.0 369.5 L263.4 375.8 M226.5 345.8 L230.2 346.4 L229.6 348.9 L226.8 350.1 L228.4 352.0 L230.2 354.5 L230.9 357.6 L230.2 361.4 L231.5 364.5 L232.8 367.6 L231.5 371.4 L232.8 373.9 L235.2 376.4 M204.0 353.9 L206.5 355.8 L209.6 357.0 L212.1 359.5 L212.8 362.6 L212.1 365.8 L213.4 368.9 L212.8 371.0 L209.6 372.6 L207.1 375.1 L205.2 377.0 M204.0 353.5 L206.5 355.1 L209.6 356.4 L212.1 358.9 L212.8 362.0 L212.1 365.1 L213.4 368.2 L212.8 370.5 L209.6 372.0 L207.1 374.5 L204.6 377.2 L206.5 378.9 L210.2 380.1 L214.0 380.8 L216.5 379.5 L217.8 381.4 L215.9 383.5 L213.8 385.1 L212.8 388.2 L211.5 392.0 L212.1 395.8 L215.2 395.5 L219.0 394.8 L222.8 393.9 L226.5 393.2 L227.8 395.8 L229.0 396.8 L230.5 394.5 L230.9 390.8 L231.5 386.4 L234.0 384.5 L236.5 382.0 L237.8 381.0 M212.1 395.8 L209.6 397.0 L208.4 398.9 L205.2 399.5 L204.2 397.6 L202.1 400.1 L199.6 402.6 L198.0 405.8 M226.5 345.1 L230.2 345.8 L229.6 348.2 L226.8 349.5 L228.4 351.4 L230.2 353.9 L230.9 357.0 L230.2 360.8 L231.5 363.9 L232.8 367.0 L231.5 370.8 L232.8 373.2 L235.2 375.8 L237.1 378.2 L237.8 381.0 L242.8 381.0 L249.0 380.8 L249.6 379.5 L254.0 378.2 L257.8 377.0 L262.8 375.8 L267.8 376.4 M246.5 337.0 L249.0 339.5 L252.1 340.8 L254.0 342.6 L251.5 344.5 L249.6 347.0 L250.2 350.8 L250.0 354.5 L251.5 358.2 L253.4 361.4 L252.5 363.9 L256.5 364.2 L262.8 364.2 L263.4 368.2 L263.4 375.8" fill="none"/>
</g>
<path d="M383.4 349.8 L381.5 347.0 L378.4 343.2 L375.9 339.5 L373.8 335.8 L372.8 332.0 L371.5 328.9 L369.0 327.2 L367.1 329.5 L365.2 332.6 L362.8 335.5 L360.2 337.2 L358.4 335.8 L355.9 333.2 L352.8 331.4 L350.2 330.5 L347.8 332.0 L345.2 334.5 L342.8 336.4 L339.6 335.8 L338.8 333.2 L340.5 330.8 L340.2 328.2 L336.5 328.9 L332.8 330.8 L329.0 332.0" fill="none" stroke="#111" stroke-width="1.3" stroke-linejoin="round"/>
<path d="M329.0 332.0 L326.5 332.6 L323.4 332.0 L320.2 331.4 L317.1 333.2 L314.0 334.5 L310.2 333.0 L306.5 332.0 L303.4 330.1 L300.2 328.5 L296.5 329.2 L294.0 330.8 L292.1 333.2 L289.6 335.8 L287.1 338.2 L286.5 340.8 L285.2 343.9 L282.1 345.1 L279.0 344.5 L277.1 343.2 L275.2 342.0 L274.6 345.8 L274.0 349.5 L275.2 352.0 L278.4 352.6 L281.5 354.5 L283.0 358.2 L283.4 363.2 L282.1 367.0 L279.6 369.5 L279.6 373.2 L279.0 377.0 L279.6 374.5 L278.8 378.0 L275.2 377.2 L271.5 376.8 L268.0 376.4" fill="none" stroke="#1a1a1a" stroke-width="0.9" stroke-linejoin="round"/>
<path d="M268.0 376.4 L268.0 433.5" fill="none" stroke="#777" stroke-width="0.8"/>
<path d="M268.0 433.5 L271.5 432.6 L275.2 432.2 L279.0 433.0 L282.8 432.2 L287.8 432.0 L292.1 431.4 L294.6 429.8 L296.5 428.9" fill="none" stroke="#111" stroke-width="1.2" stroke-linejoin="round"/>
<g stroke="#fff" stroke-width="0.5" stroke-linejoin="round">
<path d="M92.1 132.6 L92.8 130.1 L93.1 127.6 L95.2 126.7 L97.1 127.3 L98.7 128.9 L100.2 130.4 L102.1 131.7 L104.0 133.9 L103.4 134.8 L101.5 133.2 L99.6 132.0 L97.4 130.4 L95.9 131.4 L94.3 132.9 L93.4 134.5 L92.4 135.8 L92.0 133.9Z" fill="#ff0013" stroke="none"/>
<path d="M89.9 139.5 L91.5 138.2 L93.4 137.3 L95.9 137.0 L97.8 137.6 L99.0 138.9 L98.1 139.5 L96.2 138.2 L94.0 138.2 L92.1 139.5 L90.6 140.1Z" fill="#ff0013" stroke="none"/>
<path d="M105.9 123.2 L107.4 122.9 L109.0 124.2 L110.6 125.8 L111.8 127.6 L113.4 128.9 L114.0 130.4 L112.8 131.4 L111.5 131.1 L110.9 132.6 L110.2 132.9 L110.9 130.1 L110.6 128.2 L109.3 126.7 L108.1 125.1 L106.2 124.0Z" fill="#ff0013" stroke="none"/>
<path d="M118.1 134.5 L119.6 132.9 L121.5 132.0 L121.8 129.5 L121.5 127.6 L124.0 126.4 L126.5 125.1 L129.0 123.6 L129.9 123.2 L130.6 125.1 L129.9 126.7 L129.0 127.6 L129.6 129.5 L130.2 131.4 L127.8 132.0 L125.6 132.6 L127.1 134.5 L126.5 135.8 L124.6 134.8 L122.8 134.5 L120.9 133.9 L119.0 134.8Z" fill="#ff0013" stroke="none"/>
<path d="M135.6 143.2 L137.1 141.7 L139.0 141.1 L140.2 142.0 L142.1 141.4 L144.0 141.7 L143.7 143.2 L142.8 145.1 L141.5 143.9 L140.2 143.6 L138.7 143.2 L137.1 142.9Z" fill="#ff0013" stroke="none"/>
<path d="M149.6 138.9 L150.2 137.3 L152.1 136.7 L154.0 137.0 L154.6 137.9 L156.5 137.0 L159.0 138.6 L157.8 139.5 L155.2 140.1 L153.4 141.7 L151.8 142.0 L150.2 140.8Z" fill="#ff0013" stroke="none"/>
<path d="M14.0 305.1 L15.2 302.6 L16.8 300.8 L15.9 297.6 L16.8 296.0 L18.4 298.2 L21.5 298.9 L25.2 298.0 L24.2 295.5 L27.1 295.5 L29.6 293.2 L29.0 290.8 L32.1 289.5 L34.6 288.2 L34.0 284.5 L36.5 283.2 L39.0 282.0 L39.6 279.5 L42.1 277.0 L41.5 273.9 L44.6 272.6 L47.1 270.8 L49.6 269.5 L51.5 267.6 L52.1 265.1 L54.6 263.2 L57.1 262.0 L60.2 260.8 L62.8 260.5 L63.0 263.2 L61.5 266.4 L60.0 269.5 L58.4 272.6 L57.1 275.1 L54.6 277.6 L56.5 279.5 L58.4 282.0 L59.0 285.1 L59.6 288.2 L58.4 290.8 L55.9 293.2 L53.4 295.8 L50.9 298.2 L47.8 298.2 L45.9 300.1 L44.0 302.6 L43.0 305.8 L42.8 308.9 L41.8 307.0 L39.6 307.6 L39.0 310.8 L36.5 312.0 L33.4 311.8 L33.0 308.9 L30.2 307.0 L26.5 306.0 L21.5 305.8 L17.8 306.4 L15.2 307.0Z" fill="#ff0013" stroke="none"/>
<path d="M63.0 260.5 L64.0 258.2 L67.1 255.8 L70.2 253.2 L74.0 251.4 L74.6 247.6 L75.2 245.8 L80.2 245.1 L84.0 244.5 L85.9 242.0 L89.0 241.0 L92.1 240.8 L94.6 238.9 L97.8 238.2 L100.9 239.2 L102.1 236.4 L104.6 234.5 L107.8 233.2 L110.2 232.2 L112.8 231.0 L115.9 230.1 L118.4 228.5 L121.5 228.0 L124.0 229.5 L125.9 232.0 L128.4 233.2 L132.1 231.8 L134.6 230.1 L135.9 227.6 L134.0 225.8 L132.1 224.5 L135.2 223.2 L139.0 222.6 L141.5 222.0 L142.5 221.4 L143.4 223.2 L145.9 225.1 L146.8 228.2 L146.2 232.0 L144.6 234.8 L144.0 237.0 L142.5 238.9 L141.5 240.8 L142.1 243.2 L144.6 244.5 L145.0 247.0 L143.8 250.1 L143.4 253.2 L141.5 255.8 L140.2 258.9 L138.4 258.2 L136.5 255.1 L134.0 255.8 L132.8 257.6 L134.0 260.8 L132.8 263.9 L130.2 263.9 L127.1 262.0 L124.0 262.2 L121.5 263.9 L119.0 265.8 L116.5 267.6 L115.2 270.1 L115.9 273.0 L112.8 273.2 L109.0 275.1 L105.9 277.6 L102.8 280.1 L100.2 283.2 L97.8 286.4 L94.0 288.2 L90.2 288.9 L87.1 287.0 L82.8 287.6 L78.4 286.4 L75.2 288.2 L73.4 291.4 L72.1 293.9 L69.6 293.9 L67.1 296.4 L64.0 295.8 L60.9 293.9 L59.0 291.4 L59.6 288.2 L59.0 285.1 L58.4 282.0 L56.5 279.5 L54.6 277.6 L57.1 275.1 L58.4 272.6 L60.0 269.5 L61.5 266.4 L63.0 263.2Z" fill="#ffa5a6" stroke="none"/>
<path d="M152.8 238.5 L154.6 238.0 L155.9 239.2 L155.0 240.8 L153.0 240.5Z" fill="#ffa5a6" stroke="none"/>
<path d="M90.2 139.5 L134.0 120.1 M134.0 120.5 L144.6 142.2 M108.4 231.8 L157.8 242.2 M144.2 213.5 L157.8 242.2" fill="none" stroke-width="1.25"/>
<path d="M63.0 260.5 L63.0 263.2 L61.5 266.4 L60.0 269.5 L58.4 272.6 L57.1 275.1 L54.6 277.6 L56.5 279.5 L58.4 282.0 L59.0 285.1 L59.6 288.2 L59.0 291.4" fill="none" stroke-width="0.8"/>
</g>
</svg></div>
<div class="tip"><b class="t" style="left:11.89px;top:8.90px;font:bold 14px/18px 'DejaVu Sans','Liberation Sans',sans-serif;letter-spacing:0px;color:#2a2a2a;transform:scaleX(0.9257)">MORUGA/TABLELAND</b><span class="t" style="left:11.89px;top:25.90px;font:normal 14px/18px 'DejaVu Sans','Liberation Sans',sans-serif;letter-spacing:0px;color:#333;transform:scaleX(0.8916)">Predicted Winner: <span style="color:#ffc72c">U.N.C.</span></span><span class="t" style="left:11.92px;top:42.90px;font:normal 14px/18px 'DejaVu Sans','Liberation Sans',sans-serif;letter-spacing:0px;color:#333;transform:scaleX(0.8964)">UNC Vote Share: 54.2%</span><span class="t" style="left:11.88px;top:59.90px;font:normal 14px/18px 'DejaVu Sans','Liberation Sans',sans-serif;letter-spacing:0px;color:#333;transform:scaleX(0.8991)">PNM Vote Share: 45.8%</span></div>
<div class="list">
<div class="item" style="top:10px"><b class="t" style="left:12.06px;top:9.40px;font:bold 16px/20px 'DejaVu Sans','Liberation Sans',sans-serif;letter-spacing:0px;color:#4a4950;transform:scaleX(0.9412)">POINT FORTIN</b><span class="t" style="left:11.72px;top:28.30px;font:normal 16px/20px 'DejaVu Sans','Liberation Sans',sans-serif;letter-spacing:0px;color:#4c4c50;transform:scaleX(0.8996)">Predicted Winner: P.N.M.</span></div>
<div class="item u" style="top:76px"><b class="t" style="left:11.74px;top:9.40px;font:bold 16px/20px 'DejaVu Sans','Liberation Sans',sans-serif;letter-spacing:0px;color:#4a4950;transform:scaleX(0.9348)">MAYARO</b><span class="t" style="left:11.73px;top:28.30px;font:normal 16px/20px 'DejaVu Sans','Liberation Sans',sans-serif;letter-spacing:0px;color:#4c4c50;transform:scaleX(0.8967)">Predicted Winner: U.N.C.</span></div>
<div class="item u" style="top:142px"><b class="t" style="left:11.75px;top:9.40px;font:bold 16px/20px 'DejaVu Sans','Liberation Sans',sans-serif;letter-spacing:0px;color:#4a4950;transform:scaleX(0.9268)">MORUGA/TABLELAND</b><span class="t" style="left:11.73px;top:28.30px;font:normal 16px/20px 'DejaVu Sans','Liberation Sans',sans-serif;letter-spacing:0px;color:#4c4c50;transform:scaleX(0.8967)">Predicted Winner: U.N.C.</span></div>
<div class="item u" style="top:208px"><b class="t" style="left:12.35px;top:9.40px;font:bold 16px/20px 'DejaVu Sans','Liberation Sans',sans-serif;letter-spacing:0px;color:#4a4950;transform:scaleX(0.9224)">TOCO/SANGRE GRANDE</b><span class="t" style="left:11.73px;top:28.30px;font:normal 16px/20px 'DejaVu Sans','Liberation Sans',sans-serif;letter-spacing:0px;color:#4c4c50;transform:scaleX(0.8967)">Predicted Winner: U.N.C.</span></div>
<div class="item u" style="top:274px"><b class="t" style="left:11.72px;top:9.40px;font:bold 16px/20px 'DejaVu Sans','Liberation Sans',sans-serif;letter-spacing:0px;color:#4a4950;transform:scaleX(0.9247)">CUMUTO/MANZANILLA</b><span class="t" style="left:11.73px;top:28.30px;font:normal 16px/20px 'DejaVu Sans','Liberation Sans',sans-serif;letter-spacing:0px;color:#4c4c50;transform:scaleX(0.8967)">Predicted Winner: U.N.C.</span></div>
<div class="item" style="top:340px"><b class="t" style="left:11.95px;top:9.40px;font:bold 16px/20px 'DejaVu Sans','Liberation Sans',sans-serif;letter-spacing:0px;color:#4a4950;transform:scaleX(0.9208)">ARIMA</b><span class="t" style="left:11.72px;top:28.30px;font:normal 16px/20px 'DejaVu Sans','Liberation Sans',sans-serif;letter-spacing:0px;color:#4c4c50;transform:scaleX(0.8996)">Predicted Winner: P.N.M.</span></div>
<div class="item" style="top:406px"><b class="t" style="left:11.58px;top:9.40px;font:bold 16px/20px 'DejaVu Sans','Liberation Sans',sans-serif;letter-spacing:0px;color:#4a4950;transform:scaleX(0.8862)">LA BREA</b><span class="t" style="left:11.72px;top:28.30px;font:normal 16px/20px 'DejaVu Sans','Liberation Sans',sans-serif;letter-spacing:0px;color:#4c4c50;transform:scaleX(0.8996)">Predicted Winner: P.N.M.</span></div>
<div class="item u" style="top:472px"><b class="t" style="left:11.73px;top:9.40px;font:bold 16px/20px 'DejaVu Sans','Liberation Sans',sans-serif;letter-spacing:0px;color:#4a4950;transform:scaleX(0.9320)">LA HORQUETTA/TALPARO</b><span class="t" style="left:11.73px;top:28.30px;font:normal 16px/20px 'DejaVu Sans','Liberation Sans',sans-serif;letter-spacing:0px;color:#4c4c50;transform:scaleX(0.8967)">Predicted Winner: U.N.C.</span></div>
</div>
<div class="track"></div><div class="thumb"></div>
<div class="panel"><h2 class="t" style="left:19.92px;top:20.50px;font:bold 24px/30px 'DejaVu Sans','Liberation Sans',sans-serif;letter-spacing:0px;color:#2d2d2d;transform:scaleX(0.8851);-webkit-text-stroke:0.45px #2d2d2d">Marginal Constituency Profiles</h2><label class="t" style="left:848.29px;top:26.30px;font:bold 16px/20px 'DejaVu Sans','Liberation Sans',sans-serif;letter-spacing:0px;color:#333;transform:scaleX(0.9127)">Year:</label><div class="sel"><svg width="10" height="16" viewBox="0 0 10 16"><path d="M5.5 0.8 L9.1 6.1 H1.9Z M5.5 14.8 L9.1 9.6 H1.9Z" fill="#111"/></svg></div><span class="t" style="left:916.04px;top:25.80px;font:normal 16px/20px 'Liberation Sans',sans-serif;letter-spacing:0px;color:#000;transform:scaleX(1.0457)">2024</span><div class="sb"></div></div>
<div class="tbl">
<div class="tr h" style="top:0"></div><div class="tr" style="top:40px"></div><div class="tr" style="top:80px"></div><div class="tr" style="top:120px"></div>
<span class="t" style="left:12.09px;top:11.30px;font:bold 16px/20px 'DejaVu Sans','Liberation Sans',sans-serif;letter-spacing:0px;color:#2d2d2d;transform:scaleX(0.9483)">DISTRICT</span><span class="t" style="left:312.30px;top:11.30px;font:bold 16px/20px 'DejaVu Sans','Liberation Sans',sans-serif;letter-spacing:0px;color:#2d2d2d;transform:scaleX(0.9361)">ELASTICITY</span><span class="t" style="left:487.31px;top:11.30px;font:bold 16px/20px 'DejaVu Sans','Liberation Sans',sans-serif;letter-spacing:0px;color:#2d2d2d;transform:scaleX(0.9413)">SWING PROBABILITY</span><span class="t" style="left:777.47px;top:11.30px;font:bold 16px/20px 'DejaVu Sans','Liberation Sans',sans-serif;letter-spacing:0px;color:#2d2d2d;transform:scaleX(0.9267)">INCUMBENT</span>
<span class="t" style="left:12.04px;top:51.20px;font:normal 16px/20px 'DejaVu Sans','Liberation Sans',sans-serif;letter-spacing:0px;color:#333;transform:scaleX(0.9270)">BARATARIA/SAN JUAN</span><span class="t" style="left:312.12px;top:51.20px;font:normal 16px/20px 'DejaVu Sans','Liberation Sans',sans-serif;letter-spacing:0px;color:#333;transform:scaleX(0.9002)">LOW</span><span class="t" style="left:487.41px;top:51.20px;font:normal 16px/20px 'DejaVu Sans','Liberation Sans',sans-serif;letter-spacing:0px;color:#333;transform:scaleX(0.9530)">HIGH</span><span class="t" style="left:777.49px;top:51.20px;font:normal 16px/20px 'DejaVu Sans','Liberation Sans',sans-serif;letter-spacing:0px;color:#333;transform:scaleX(0.9143)">UNC</span>
<span class="t" style="left:11.94px;top:91.20px;font:normal 16px/20px 'DejaVu Sans','Liberation Sans',sans-serif;letter-spacing:0px;color:#333;transform:scaleX(0.8800)">CHAGUANAS EAST</span><span class="t" style="left:312.35px;top:91.20px;font:normal 16px/20px 'DejaVu Sans','Liberation Sans',sans-serif;letter-spacing:0px;color:#333;transform:scaleX(0.9031)">MODERATE</span><span class="t" style="left:487.41px;top:91.20px;font:normal 16px/20px 'DejaVu Sans','Liberation Sans',sans-serif;letter-spacing:0px;color:#333;transform:scaleX(0.9530)">HIGH</span><span class="t" style="left:777.45px;top:91.20px;font:normal 16px/20px 'DejaVu Sans','Liberation Sans',sans-serif;letter-spacing:0px;color:#333;transform:scaleX(0.9137)">UNC</span>
</div>
</body>
</html>
